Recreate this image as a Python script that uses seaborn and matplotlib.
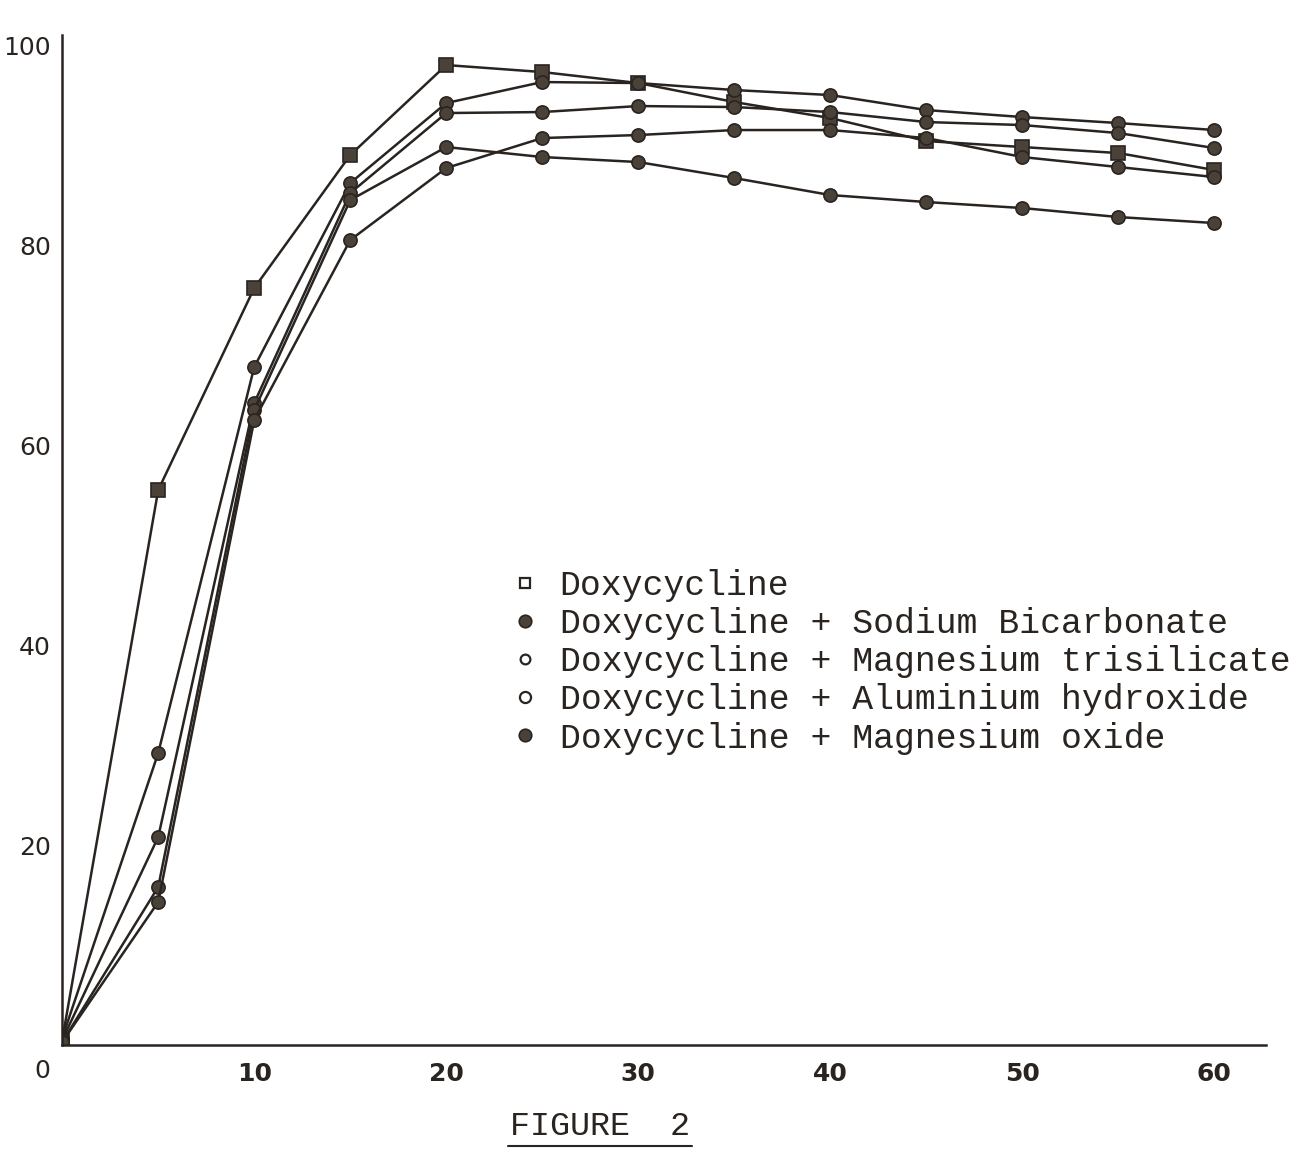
import pandas as pd
import matplotlib.pyplot as plt
import seaborn as sns
from matplotlib.lines import Line2D

# ---------------------------------------------------------
# data (time vs % dissolved)
# ---------------------------------------------------------
time_min = [0, 5, 10, 15, 20, 25, 30, 35, 40, 45, 50, 55, 60]

doxy = [0.5, 55.5, 75.7, 89.0, 98.0, 97.3, 96.2, 94.3, 92.7, 90.4, 89.8, 89.2, 87.5]
doxy_nahco3 = [0.7, 29.2, 67.8, 86.2, 94.2, 96.3, 96.2, 95.5, 95.0, 93.5, 92.8, 92.2, 91.5]
doxy_mg_trisil = [0.5, 20.8, 64.2, 85.2, 93.2, 93.3, 93.9, 93.8, 93.3, 92.3, 92.0, 91.2, 89.7]
doxy_al_oh = [0.3, 15.8, 63.5, 84.5, 89.8, 88.8, 88.3, 86.7, 85.0, 84.3, 83.7, 82.8, 82.2]
doxy_mgo = [0.3, 14.3, 62.5, 80.5, 87.7, 90.7, 91.0, 91.5, 91.5, 90.7, 88.8, 87.8, 86.8]

series_names = [
    "Doxycycline",
    "Doxycycline + Sodium Bicarbonate",
    "Doxycycline + Magnesium trisilicate",
    "Doxycycline + Aluminium hydroxide",
    "Doxycycline + Magnesium oxide",
]
series_values = [doxy, doxy_nahco3, doxy_mg_trisil, doxy_al_oh, doxy_mgo]

yticks = [0, 20, 40, 60, 80, 100]
xticks = [10, 20, 30, 40, 50, 60]

rows = []
for name, vals in zip(series_names, series_values):
    for t, v in zip(time_min, vals):
        rows.append({"time": t, "pct": v, "series": name})
df = pd.DataFrame(rows)

# ---------------------------------------------------------
# plot
# ---------------------------------------------------------
sns.set_style("white")
ink = "#2a2420"
blob = "#4a4139"

fig = plt.figure(figsize=(12.96, 11.49), dpi=100)
ax = fig.add_axes([0.048, 0.0905, 0.929, 0.879])

plot_markers = dict(zip(series_names, ["s", "o", "o", "o", "o"]))
sns.lineplot(data=df, x="time", y="pct", hue="series", style="series",
             palette=[ink] * 5, markers=plot_markers, dashes=False,
             markersize=9.5, markerfacecolor=blob, markeredgecolor=ink,
             markeredgewidth=1.2, linewidth=1.8, legend=False, ax=ax)

ax.set_xlim(0, 62.7)
ax.set_ylim(0, 101)
ax.set_xticks(xticks)
ax.set_yticks(yticks[1:])
ax.set_yticks([10, 30, 50, 70, 90], minor=True)
ax.set_xlabel("")
ax.set_ylabel("")

for side in ["top", "right"]:
    ax.spines[side].set_visible(False)
for side in ["left", "bottom"]:
    ax.spines[side].set_color(ink)
    ax.spines[side].set_linewidth(1.8)

ax.tick_params(axis="x", length=0, pad=12, labelsize=18, colors=ink)
ax.tick_params(axis="y", which="major", length=4, width=1.2, pad=4,
               labelsize=18, colors=ink, direction="out")
ax.tick_params(axis="y", which="minor", length=3, width=1.0, colors=ink,
               direction="out")
for lab in ax.get_xticklabels():
    lab.set_fontweight("bold")

# shared origin label
fig.text(0.033, 0.068, "0", fontsize=18, color=ink, ha="center", va="center")

# legend (typewriter style)
handles = [
    Line2D([], [], ls="none", marker="s", ms=7, mfc="white", mec=ink, mew=1.6),
    Line2D([], [], ls="none", marker="o", ms=9, mfc=blob, mec=ink, mew=1.2),
    Line2D([], [], ls="none", marker="o", ms=7, mfc="white", mec=ink, mew=1.6),
    Line2D([], [], ls="none", marker="o", ms=8, mfc="white", mec=ink, mew=1.6),
    Line2D([], [], ls="none", marker="o", ms=9, mfc=blob, mec=ink, mew=1.2),
]
fig.legend(handles=handles, labels=series_names, loc="upper left",
           bbox_to_anchor=(0.397, 0.505), frameon=False, borderpad=0,
           borderaxespad=0, handlelength=0.6, handletextpad=0.7,
           labelspacing=0.15,
           prop={"family": "Liberation Mono", "size": 25})
for txt in fig.legends[0].get_texts():
    txt.set_color(ink)

# caption
fig.text(0.463, 0.006, "FIGURE  2", fontsize=24, family="Liberation Mono",
         color=ink, ha="center", va="bottom")
fig.add_artist(Line2D([0.392, 0.534], [0.003, 0.003], color=ink, lw=1.5,
                      transform=fig.transFigure))

fig.savefig("out.png", dpi=100, facecolor="white")
